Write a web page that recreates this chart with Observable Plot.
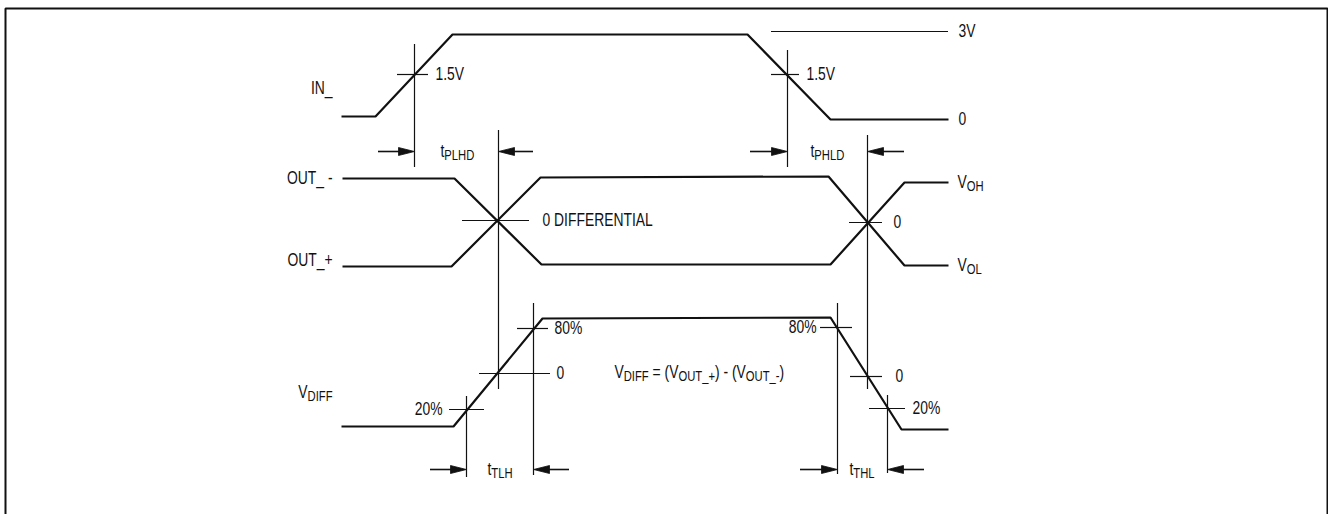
<!DOCTYPE html>
<html><head><meta charset="utf-8">
<script src="https://cdn.jsdelivr.net/npm/d3@7"></script>
<script src="https://cdn.jsdelivr.net/npm/@observablehq/plot@0.6"></script>
<style>
html,body{margin:0;padding:0;background:#fff;}
#chart svg{display:block;}
</style>
</head><body><div id="chart"></div>
<script>
// ---- Waveforms (time in diagram units, level in diagram units, y downward) ----
const inT   = [341, 375, 452, 747, 830, 948];
const inV   = [116, 116, 34, 34, 119, 119];
const outMinusT = [342, 454, 541, 830, 904, 948];
const outMinusV = [178, 178, 264, 264, 182, 182];
const outPlusT  = [342, 451, 540, 828, 904, 948];
const outPlusV  = [266, 266, 177, 176, 265, 265];
const vdiffT = [341, 453, 542, 830, 901, 948];
const vdiffV = [426, 426, 318, 317, 429, 429];

// 3V reference level
const refX1 = [771], refX2 = [948], refY = [31];

// Threshold tick marks (horizontal)
const tickX1 = [397, 771, 462, 849, 517, 479, 449, 820, 850, 869];
const tickX2 = [428, 799, 529, 882, 548, 550, 484, 852, 882, 905];
const tickY  = [74, 74, 220, 222, 328, 373, 409, 327, 376, 408];

// Timing markers (vertical)
const vertX  = [414, 787, 498, 867, 533, 466, 837, 887];
const vertY1 = [44, 50, 130, 135, 303, 396, 303, 395];
const vertY2 = [167, 167, 389, 389, 475, 477, 474, 473];

// Delay arrows: tail -> tip
const arrowTail = [378, 533, 750, 904, 430, 569, 800, 924];
const arrowTip  = [414, 498, 787, 867, 466, 533, 837, 887];
const arrowY    = [151, 151, 151, 151, 469, 469, 469, 469];

// Frame
const frameX = [5, 1327];
const frameY = [8, 540];

// Labels  ({...} = subscript)
const labelText = ["IN_", "OUT_ -", "OUT_+", "V{DIFF}",
  "1.5V", "1.5V", "3V", "0",
  "t{PLHD}", "t{PHLD}",
  "0 DIFFERENTIAL", "V{OH}", "0", "V{OL}",
  "80%", "0", "20%", "V{DIFF} = (V{OUT_+}) - (V{OUT_-})",
  "80%", "0", "20%", "t{TLH}", "t{THL}"];
const labelX = [332, 332, 332, 332,
  435, 806, 958, 958,
  440, 810,
  542, 957, 893, 957,
  554, 556, 442, 614,
  816, 895, 912, 487, 849];
const labelY = [88, 178, 260, 392,
  74, 74, 31, 119,
  151, 151,
  220, 182, 222, 265,
  328, 373, 409, 372,
  327, 376, 408, 469, 469];
const labelAnchor = ["end", "end", "end", "end",
  "start", "start", "start", "start",
  "start", "start",
  "start", "start", "start", "start",
  "start", "start", "end", "start",
  "end", "start", "start", "start", "start"];

// ---- Build tables ----
const wave = [];
[["IN_", inT, inV], ["OUT_-", outMinusT, outMinusV], ["OUT_+", outPlusT, outPlusV], ["VDIFF", vdiffT, vdiffV]]
  .forEach(([name, T, V]) => T.forEach((t, i) => wave.push({name, t, v: V[i]})));

const ticks = tickX1.map((x1, i) => ({x1, x2: tickX2[i], y: tickY[i]}));
const refs = refX1.map((x1, i) => ({x1, x2: refX2[i], y: refY[i]}));
const verts = vertX.map((x, i) => ({x, y1: vertY1[i], y2: vertY2[i]}));

const headLen = 16, headHalf = 4;
const shafts = arrowTail.map((t, i) => ({x1: t, x2: arrowTip[i] - Math.sign(arrowTip[i] - t) * headLen * 0.5, y: arrowY[i]}));
const heads = [];
arrowTip.forEach((tip, i) => {
  const d = Math.sign(tip - arrowTail[i]);
  heads.push({id: i, x: tip, y: arrowY[i]});
  heads.push({id: i, x: tip - d * headLen, y: arrowY[i] - headHalf});
  heads.push({id: i, x: tip - d * headLen, y: arrowY[i] + headHalf});
  heads.push({id: i, x: tip, y: arrowY[i]});
});

const labels = labelText.map((text, i) => ({text, x: labelX[i], y: labelY[i], anchor: labelAnchor[i]}));
const frame = [{x: frameX[0], y: frameY[1]}, {x: frameX[0], y: frameY[0]}, {x: frameX[1], y: frameY[0]}, {x: frameX[1], y: frameY[1]}];

const ink = "#111";
const fontFamily = "'Liberation Sans', Arial, sans-serif";
const mainSize = 18.5, subSize = 15, subShift = 2.5, narrow = 0.75;

const svg = Plot.plot({
  width: 1328, height: 514,
  marginLeft: 0, marginRight: 0, marginTop: 0, marginBottom: 0,
  x: {domain: [0, 1328], range: [0, 1328], axis: null},
  y: {domain: [0, 514], range: [0, 514], axis: null},
  style: {fontFamily, fontSize: mainSize + "px", background: "#fff", color: ink},
  marks: [
    Plot.line(frame, {x: "x", y: "y", stroke: ink, strokeWidth: 2, strokeLinejoin: "miter"}),
    Plot.ruleY(refs, {y: "y", x1: "x1", x2: "x2", stroke: ink, strokeWidth: 1.2}),
    Plot.ruleY(ticks, {y: "y", x1: "x1", x2: "x2", stroke: ink, strokeWidth: 1.2}),
    Plot.ruleX(verts, {x: "x", y1: "y1", y2: "y2", stroke: ink, strokeWidth: 1.2}),
    Plot.line(wave, {x: "t", y: "v", z: "name", stroke: ink, strokeWidth: 2.2, strokeLinejoin: "miter", strokeLinecap: "butt"}),
    Plot.ruleY(shafts, {y: "y", x1: "x1", x2: "x2", stroke: ink, strokeWidth: 1.6}),
    Plot.line(heads, {x: "x", y: "y", z: "id", fill: ink, stroke: ink, strokeWidth: 0.8}),
    Plot.text(labels.filter(d => d.anchor === "start"), {x: "x", y: "y", text: "text", textAnchor: "start", fill: ink, fontSize: mainSize}),
    Plot.text(labels.filter(d => d.anchor === "end"), {x: "x", y: "y", text: "text", textAnchor: "end", fill: ink, fontSize: mainSize})
  ]
});

// Subscript rendering for {...} and condensed glyphs
d3.select(svg).selectAll("text").each(function() {
  const t = this.textContent;
  if (t.includes("{")) {
    const parts = t.split(/(\{[^}]*\})/).filter(s => s.length);
    this.textContent = "";
    let shifted = false;
    for (const p of parts) {
      const ts = d3.select(this).append("tspan");
      if (p.startsWith("{")) {
        ts.text(p.slice(1, -1)).attr("font-size", subSize).attr("dy", shifted ? 0 : subShift);
        shifted = true;
      } else {
        ts.text(p);
        if (shifted) { ts.attr("dy", -subShift); shifted = false; }
      }
    }
  }
  const prev = this.getAttribute("transform") || "";
  this.setAttribute("transform", `${prev} scale(${narrow},1)`.trim());
});

document.getElementById("chart").appendChild(svg);
</script>
</body></html>
